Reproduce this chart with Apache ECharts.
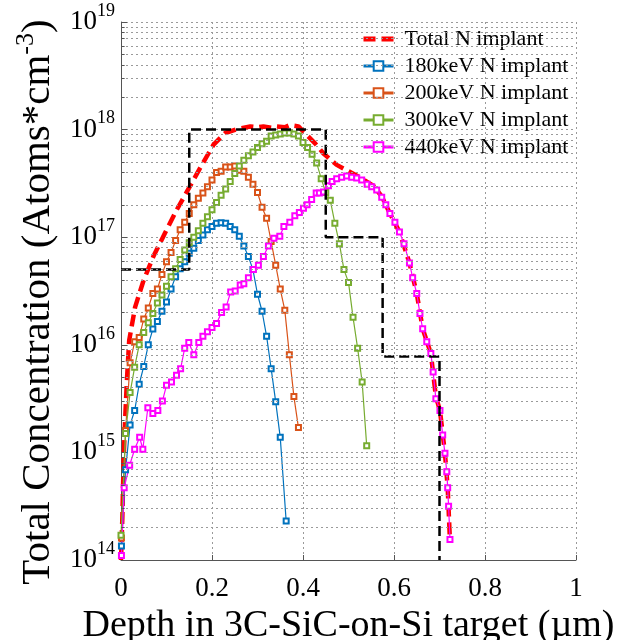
<!DOCTYPE html>
<html>
<head>
<meta charset="utf-8">
<script src="https://cdn.jsdelivr.net/npm/echarts@6/dist/echarts.min.js"></script>
<style>html,body{margin:0;padding:0;background:#fff}#c{width:635px;height:640px}</style>
</head>
<body>
<div id="c"></div>
<script>
// ---- data (depth in µm, concentration in atoms/cm^3) ----
const xTicks = ['0', '0.2', '0.4', '0.6', '0.8', '1'];
const yDecades = [1e14, 1e15, 1e16, 1e17, 1e18, 1e19];

const depthTotal = [0.000,0.003,0.006,0.009,0.013,0.018,0.031,0.049,0.071,0.097,0.122,0.148,0.174,0.203,0.229,0.258,0.284,0.300,0.313,0.330,0.342,0.360,0.371,0.390,0.404,0.427,0.445,0.474,0.500,0.525,0.555,0.573,0.591,0.612,0.634,0.650,0.663,0.681,0.692,0.701,0.712,0.718,0.723];
const concTotal  = [1.0e14,2.5e14,9.1e14,2.0e15,4.7e15,1.1e16,2.24e16,3.9e16,6.6e16,1.1e17,1.78e17,2.8e17,4.4e17,7.2e17,9.3e17,1.02e18,1.07e18,1.05e18,1.07e18,1.04e18,1.07e18,1.05e18,1.1e18,1.07e18,9.3e17,7.4e17,6.0e17,4.7e17,4.1e17,3.6e17,3.0e17,2.4e17,1.66e17,1.12e17,5.75e16,3.0e16,1.41e16,8.3e15,3.3e15,2.45e15,9.8e14,4.7e14,1.5e14];

const depth180 = [0.001,0.01,0.02,0.03,0.04,0.05,0.06,0.07,0.08,0.09,0.10,0.11,0.12,0.13,0.14,0.15,0.16,0.17,0.18,0.19,0.20,0.21,0.22,0.23,0.24,0.25,0.26,0.27,0.28,0.29,0.30,0.31,0.32,0.33,0.34,0.35,0.363];
const conc180  = [1.35e14,6.9e14,1.8e15,2.45e15,4.3e15,6.3e15,1.0e16,1.4e16,1.65e16,2.05e16,2.5e16,3.3e16,4.3e16,5.1e16,5.9e16,7.1e16,7.9e16,9.3e16,1.05e17,1.17e17,1.26e17,1.35e17,1.36e17,1.35e17,1.26e17,1.17e17,1.02e17,8.3e16,6.6e16,5.0e16,2.95e16,2.05e16,1.2e16,6.0e15,2.95e15,1.38e15,2.3e14];

const depth200 = [0.001,0.01,0.02,0.03,0.04,0.05,0.06,0.07,0.08,0.09,0.10,0.11,0.12,0.13,0.14,0.15,0.16,0.17,0.18,0.19,0.20,0.21,0.22,0.23,0.24,0.25,0.26,0.27,0.28,0.29,0.30,0.31,0.32,0.33,0.34,0.35,0.36,0.37,0.38,0.39];
const conc200  = [1.6e14,1.6e15,6.8e15,1.07e16,1.17e16,1.74e16,2.2e16,3.0e16,3.3e16,4.5e16,5.9e16,7.2e16,9.3e16,1.17e17,1.38e17,1.66e17,2.0e17,2.3e17,2.57e17,2.95e17,3.4e17,4.0e17,4.1e17,4.5e17,4.5e17,4.6e17,4.2e17,4.1e17,3.6e17,3.1e17,2.6e17,1.9e17,1.5e17,9.1e16,5.5e16,3.3e16,2.1e16,8.1e15,3.3e15,1.7e15];

const depth300 = [0.00,0.01,0.02,0.03,0.04,0.05,0.06,0.07,0.08,0.09,0.10,0.11,0.12,0.13,0.14,0.15,0.16,0.17,0.18,0.19,0.20,0.21,0.22,0.23,0.24,0.25,0.26,0.27,0.28,0.29,0.30,0.31,0.32,0.33,0.34,0.35,0.36,0.37,0.38,0.39,0.40,0.41,0.42,0.43,0.44,0.45,0.46,0.47,0.48,0.49,0.50,0.51,0.52,0.53,0.54];
const conc300  = [1.7e14,1.5e15,3.6e15,6.2e15,1.0e16,1.3e16,1.6e16,1.95e16,2.45e16,2.9e16,3.5e16,4.3e16,5.1e16,6.2e16,7.6e16,8.9e16,1.0e17,1.15e17,1.35e17,1.55e17,1.8e17,2.1e17,2.45e17,2.8e17,3.3e17,3.9e17,4.6e17,5.2e17,5.7e17,6.2e17,6.8e17,7.4e17,7.8e17,8.7e17,8.9e17,9.1e17,9.3e17,9.3e17,9.1e17,8.7e17,7.6e17,6.8e17,5.9e17,4.9e17,3.5e17,2.6e17,2.2e17,1.35e17,8.7e16,5.0e16,3.8e16,1.8e16,9.3e15,4.5e15,1.15e15];

const depth440 = [0.001,0.007,0.019,0.030,0.041,0.048,0.059,0.070,0.081,0.091,0.100,0.111,0.122,0.131,0.140,0.149,0.160,0.171,0.180,0.190,0.200,0.210,0.221,0.231,0.241,0.251,0.262,0.270,0.280,0.291,0.302,0.313,0.324,0.336,0.349,0.358,0.371,0.382,0.392,0.401,0.409,0.419,0.429,0.436,0.445,0.456,0.464,0.474,0.485,0.496,0.507,0.518,0.529,0.541,0.551,0.562,0.573,0.582,0.591,0.602,0.612,0.622,0.634,0.641,0.650,0.657,0.663,0.672,0.681,0.686,0.692,0.701,0.707,0.712,0.716,0.718,0.720,0.723];
const conc440  = [1.1e14,4.7e14,7.6e14,1.07e15,1.38e15,1.07e15,2.6e15,2.3e15,2.45e15,3.0e15,4.2e15,4.5e15,5.2e15,6.0e15,9.3e15,1.05e16,8.1e15,1.05e16,1.2e16,1.32e16,1.45e16,1.58e16,2.0e16,2.24e16,3.1e16,3.16e16,3.6e16,3.7e16,4.2e16,5.0e16,5.5e16,6.6e16,8.3e16,9.8e16,1.02e17,1.26e17,1.38e17,1.58e17,1.7e17,1.86e17,2.0e17,2.24e17,2.57e17,2.57e17,2.63e17,3.0e17,3.3e17,3.5e17,3.6e17,3.7e17,3.6e17,3.55e17,3.4e17,3.1e17,2.95e17,2.75e17,2.35e17,2.0e17,1.66e17,1.38e17,1.12e17,8.7e16,5.75e16,4.2e16,3.0e16,1.95e16,1.41e16,1.07e16,8.3e15,5.6e15,3.16e15,2.45e15,1.45e15,9.8e14,6.6e14,4.7e14,3.16e14,1.55e14];

const depthTarget = [0.000,0.150,0.150,0.450,0.450,0.575,0.575,0.700,0.700];
const concTarget  = [5e16,5e16,1e18,1e18,1e17,1e17,7.8e15,7.8e15,1e14];

const minorMultipliers = [2,3,4,5,6,7,8,9];

// ---- build ----
const zip = (a, b) => a.map((v, i) => [v, b[i]]);
const FONT = 'Liberation Serif';
const minorVals = [];
for (let d = 0; d < yDecades.length - 1; d++) {
  for (const m of minorMultipliers) minorVals.push(m * yDecades[d]);
}
const gridStyle = { type: [2, 3], color: '#9a9a9a', width: 1 };

const colors = { total: '#FF0000', k180: '#0072BD', k200: '#D95319', k300: '#77AC30', k440: '#FF00FF' };

function implantSeries(name, xs, ys, color) {
  return {
    name, type: 'line', data: zip(xs, ys), z: 3,
    symbol: 'emptyRect', symbolSize: 5, showSymbol: true,
    lineStyle: { color, width: 1.2 },
    itemStyle: { color, borderWidth: 1 },
    emphasis: { disabled: true }, animation: false
  };
}

const chart = echarts.init(document.getElementById('c'), null, { renderer: 'canvas' });
chart.setOption({
  backgroundColor: '#fff',
  animation: false,
  grid: { left: 121, right: 59, top: 22, bottom: 80, containLabel: false, outerBoundsMode: 'none' },
  legend: {
    orient: 'vertical', left: 361, top: 28, padding: 0,
    itemWidth: 30, itemHeight: 12, itemGap: 5,
    textStyle: { fontFamily: FONT, fontSize: 22, color: '#000', padding: [0, 0, 0, 6] },
    data: [
      { name: 'Total N implant', lineStyle: { width: 5 }, itemStyle: { opacity: 0 } },
      { name: '180keV N implant', lineStyle: { width: 3 } },
      { name: '200keV N implant', lineStyle: { width: 3 } },
      { name: '300keV N implant', lineStyle: { width: 3 } },
      { name: '440keV N implant', lineStyle: { width: 3 } }
    ]
  },
  xAxis: {
    type: 'value', min: 0, max: 1, interval: 0.2,
    name: 'Depth in 3C-SiC-on-Si target (µm)', nameLocation: 'middle', nameGap: 35,
    nameTextStyle: { fontFamily: FONT, fontSize: 38, color: '#000' },
    axisLine: { show: true, lineStyle: { color: '#555', width: 1 } },
    axisTick: { show: true, inside: true, length: 5, lineStyle: { color: '#555' } },
    axisLabel: { fontFamily: FONT, fontSize: 27, color: '#000', margin: 15,
      formatter: (v) => xTicks[Math.round(v / 0.2)] },
    splitLine: { show: true, lineStyle: gridStyle }
  },
  yAxis: {
    type: 'log', logBase: 10, min: yDecades[0], max: yDecades[yDecades.length - 1],
    name: '{n|Total Concentration (Atoms*cm}{s|-3}{n|)}',
    nameLocation: 'middle', nameGap: 54, nameRotate: 90,
    nameTextStyle: { fontFamily: FONT, color: '#000', padding: [0, 22, 0, 0],
      rich: {
        n: { fontFamily: FONT, fontSize: 41, lineHeight: 50, color: '#000' },
        s: { fontFamily: FONT, fontSize: 26, lineHeight: 22, verticalAlign: 'top', color: '#000' }
      } },
    axisLine: { show: true, lineStyle: { color: '#555', width: 1 } },
    axisTick: { show: true, inside: true, length: 6, lineStyle: { color: '#555' } },
    axisLabel: { margin: 6,
      formatter: (v) => '{b|10}{e|' + Math.round(Math.log10(v)) + '}',
      rich: {
        b: { fontFamily: FONT, fontSize: 27, lineHeight: 40, color: '#000' },
        e: { fontFamily: FONT, fontSize: 18, lineHeight: 16, verticalAlign: 'top', color: '#000' }
      } },
    splitLine: { show: true, lineStyle: gridStyle }
  },
  series: [
    { // minor log grid lines and minor ticks
      name: 'grid', type: 'line', data: [[0, yDecades[0]]], z: 1, symbol: 'none',
      lineStyle: { opacity: 0 }, silent: true,
      markLine: {
        silent: true, symbol: ['none', 'none'], animation: false,
        label: { show: false },
        lineStyle: gridStyle,
        data: minorVals.map(v => ({ yAxis: v })).concat(
          minorVals.map(v => [
            { coord: [0, v], lineStyle: { type: 'solid', color: '#555', width: 1 } },
            { coord: [0.008, v] }
          ]))
      }
    },
    {
      name: 'Total N implant', type: 'line', data: zip(depthTotal, concTotal), z: 2,
      symbol: 'none', smooth: false,
      lineStyle: { color: colors.total, width: 4.5, type: [12, 6] },
      itemStyle: { color: colors.total },
      emphasis: { disabled: true }
    },
    implantSeries('180keV N implant', depth180, conc180, colors.k180),
    implantSeries('200keV N implant', depth200, conc200, colors.k200),
    implantSeries('300keV N implant', depth300, conc300, colors.k300),
    implantSeries('440keV N implant', depth440, conc440, colors.k440),
    {
      name: 'target', type: 'line', data: zip(depthTarget, concTarget), z: 4,
      symbol: 'none',
      lineStyle: { color: '#000', width: 2.5, type: [10, 5] },
      emphasis: { disabled: true }
    }
  ]
});
</script>
</body>
</html>
